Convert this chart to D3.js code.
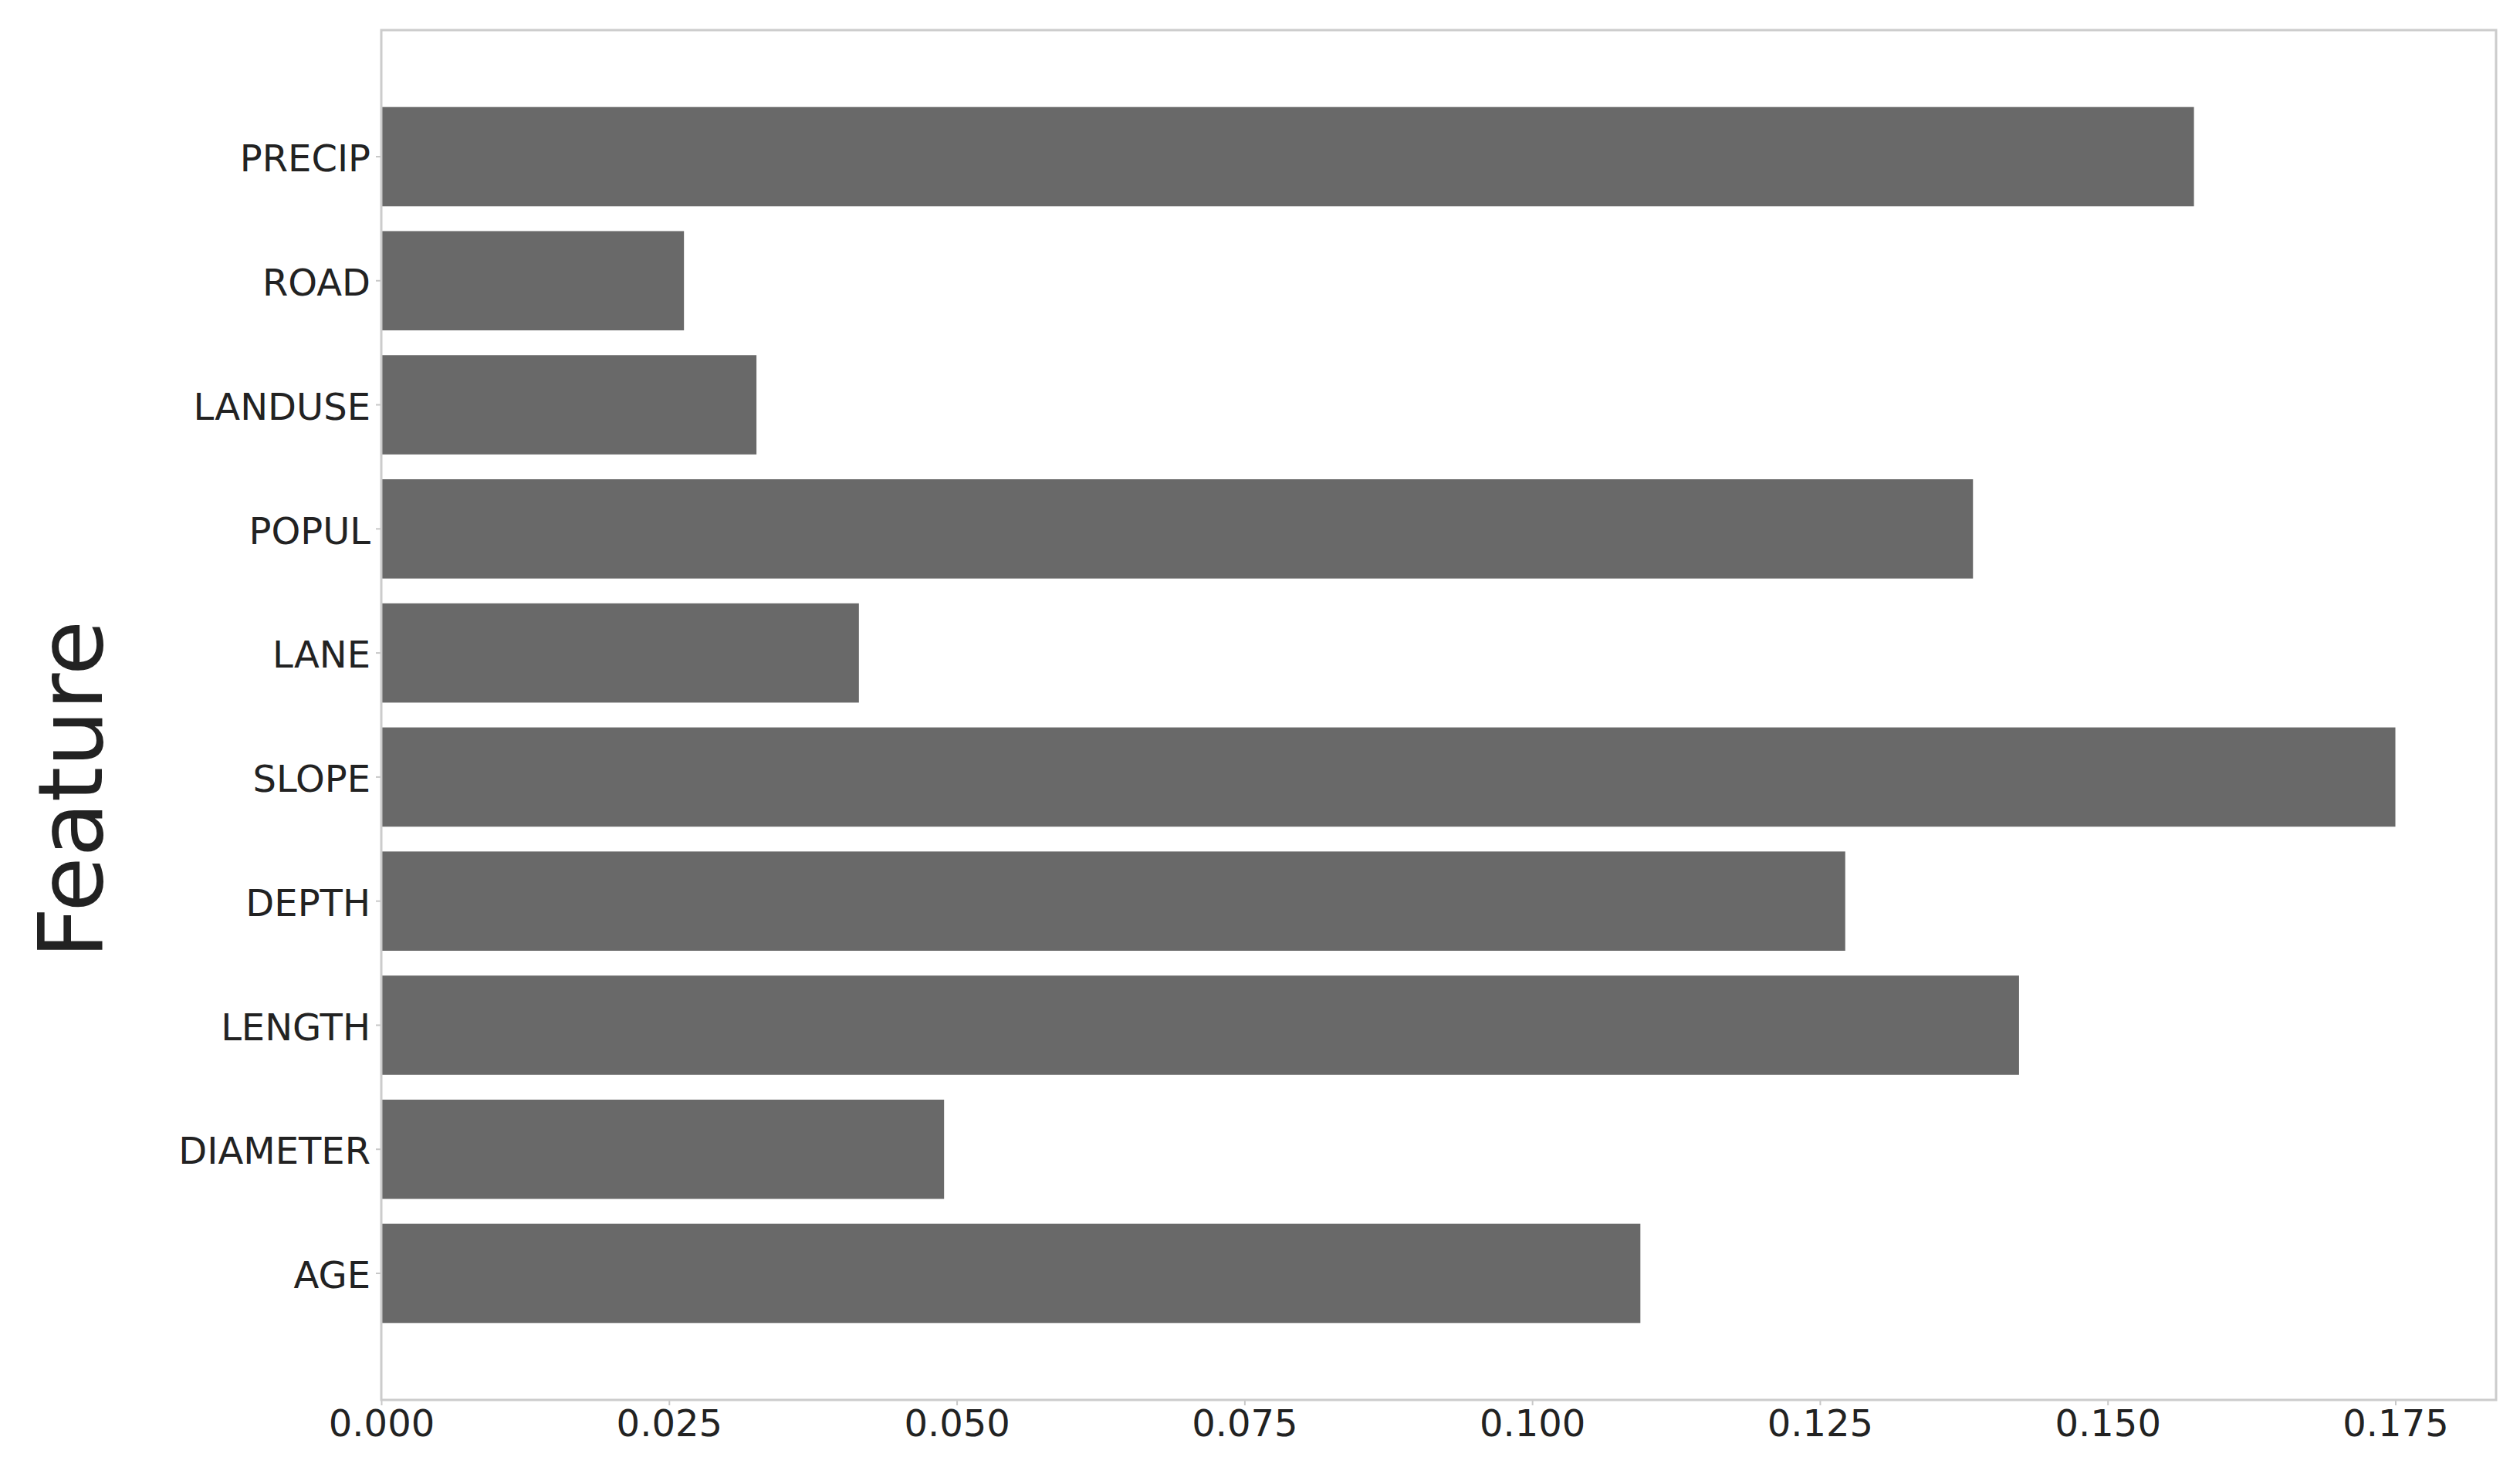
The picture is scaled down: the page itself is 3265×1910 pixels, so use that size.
<!DOCTYPE html>
<html>
<head>
<meta charset="utf-8">
<script src="https://cdn.jsdelivr.net/npm/d3@7"></script>
<style>
  html, body { margin: 0; padding: 0; background: #fff; }
  svg { display: block; }
  text { font-family: "DejaVu Sans", sans-serif; }
</style>
</head>
<body>
<script>
// Data (listed top to bottom as drawn)
const features = ["PRECIP", "ROAD", "LANDUSE", "POPUL", "LANE", "SLOPE", "DEPTH", "LENGTH", "DIAMETER", "AGE"];
const importance = [0.1575, 0.0263, 0.0326, 0.1383, 0.0415, 0.175, 0.1272, 0.1423, 0.0489, 0.1094];
const xTicks = [0, 0.025, 0.05, 0.075, 0.1, 0.125, 0.15, 0.175];
const yTitle = "Feature";

const W = 3265, H = 1910;
const plot = { left: 494, top: 39, right: 3234, bottom: 1814 };

const svg = d3.select("body").append("svg").attr("width", W).attr("height", H);

const x = d3.scaleLinear()
  .domain([0, d3.max(importance) * 1.05])
  .range([plot.left, plot.right]);

const y = d3.scaleBand()
  .domain(features)
  .range([plot.top, plot.bottom])
  .paddingInner(0.2)
  .paddingOuter(0.62);

const data = features.map((f, i) => ({ f, v: importance[i] }));

// bars
svg.append("g").selectAll("rect").data(data).join("rect")
  .attr("x", x(0))
  .attr("y", d => y(d.f))
  .attr("width", d => x(d.v) - x(0))
  .attr("height", y.bandwidth())
  .attr("fill", "#696969");

// x axis
const gx = svg.append("g")
  .attr("transform", `translate(0,${plot.bottom})`)
  .call(d3.axisBottom(x).tickValues(xTicks).tickFormat(d3.format(".3f")).tickSize(7).tickPadding(6));
gx.select(".domain").remove();
gx.selectAll(".tick line").attr("stroke", "#c8c8c8").attr("stroke-width", 2);
gx.selectAll(".tick text").attr("font-size", 48).attr("fill", "#222").attr("font-family", "DejaVu Sans, sans-serif");

// y axis
const gy = svg.append("g")
  .attr("transform", `translate(${plot.left},0)`)
  .call(d3.axisLeft(y).tickSize(7).tickPadding(7));
gy.select(".domain").remove();
gy.selectAll(".tick line").attr("stroke", "#c8c8c8").attr("stroke-width", 2);
gy.selectAll(".tick text").attr("font-size", 48).attr("dy", "0.4em").attr("fill", "#222").attr("font-family", "DejaVu Sans, sans-serif");

// frame
svg.append("rect")
  .attr("x", plot.left).attr("y", plot.top)
  .attr("width", plot.right - plot.left).attr("height", plot.bottom - plot.top)
  .attr("fill", "none").attr("stroke", "#cccccc").attr("stroke-width", 3);

// y title
svg.append("text")
  .attr("transform", `translate(132,1023) rotate(-90)`)
  .attr("text-anchor", "middle")
  .attr("font-size", 116)
  .attr("fill", "#222")
  .text(yTitle);
</script>
</body>
</html>
